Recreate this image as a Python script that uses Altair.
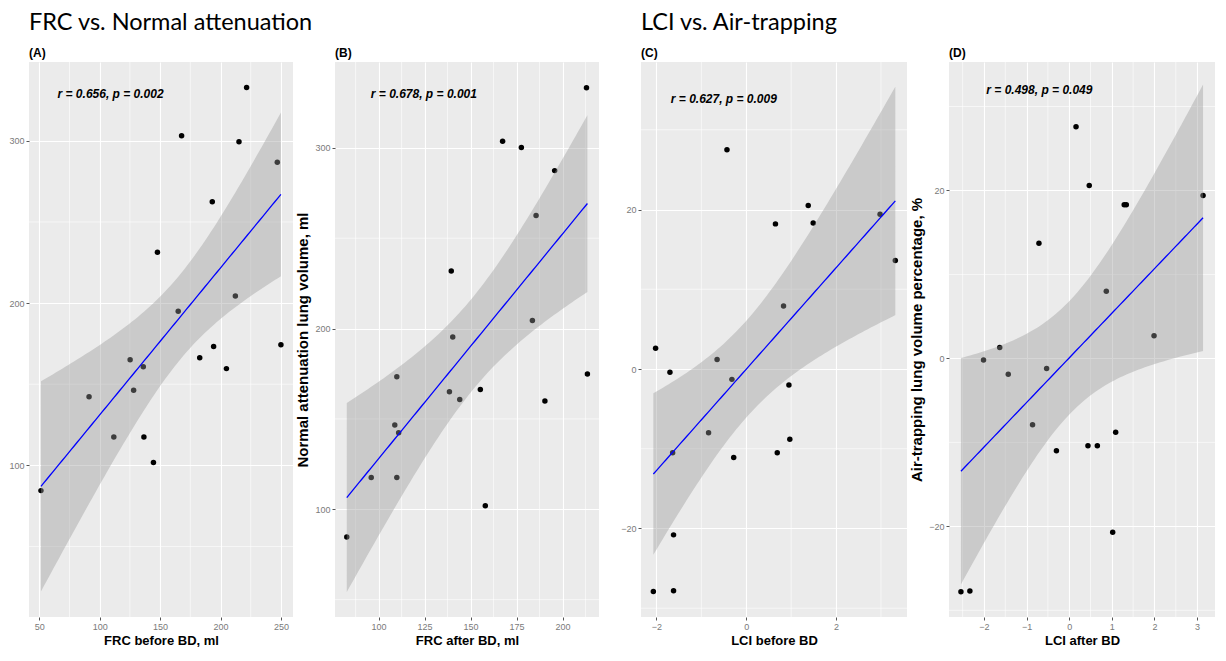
import altair as alt
import numpy as np
import pandas as pd

# ---------------- data ----------------
# (A) FRC before BD vs Normal attenuation lung volume
a_x = [221.6, 167.8, 215.3, 247.0, 193.2, 147.8, 212.3, 165.0, 194.3, 250.0,
       182.8, 125.2, 136.1, 204.9, 128.1, 91.2, 111.7, 136.6, 144.5, 51.4]
a_y = [332.9, 303.2, 299.4, 286.8, 262.4, 231.3, 204.3, 194.9, 173.3, 174.3,
       166.3, 165.0, 160.7, 159.6, 146.2, 142.2, 117.4, 117.4, 101.8, 84.4]
# (B) FRC after BD vs Normal attenuation lung volume
b_x = [213.0, 167.4, 177.6, 195.7, 185.6, 139.5, 183.6, 140.3, 213.5, 155.3,
       109.9, 138.5, 144.1, 190.4, 108.8, 110.9, 96.0, 109.9, 158.0, 82.7]
b_y = [333.3, 303.6, 300.2, 287.4, 262.6, 231.8, 204.5, 195.3, 174.8, 166.3,
       173.3, 165.1, 160.8, 159.9, 146.6, 142.4, 117.6, 117.6, 102.0, 84.7]
# (C) LCI before BD vs Air-trapping
c_x = [-0.43, 1.38, 0.65, 1.49, 2.98, 3.32, 0.83, -2.02, -1.70, -0.65,
       -0.32, 0.95, -0.84, 0.97, -1.64, -0.28, 0.69, -1.62, -2.07, -1.62]
c_y = [27.5, 20.5, 18.2, 18.3, 19.4, 13.6, 7.9, 2.6, -0.4, 1.2,
       -1.3, -2.0, -8.0, -8.8, -10.5, -11.1, -10.5, -20.8, -27.9, -27.8]
# (D) LCI after BD vs Air-trapping
d_x = [0.16, 0.47, 1.29, 1.34, 3.14, -0.71, 0.87, 1.99, -1.63, -2.01,
       -1.43, -0.53, -0.86, 1.09, 0.44, 0.66, -0.30, 1.02, -2.54, -2.33]
d_y = [27.6, 20.6, 18.3, 18.3, 19.4, 13.7, 8.0, 2.7, 1.3, -0.2,
       -1.9, -1.2, -7.9, -8.8, -10.4, -10.4, -11.0, -20.7, -27.8, -27.7]

group_titles = ["FRC vs. Normal attenuation", "LCI vs. Air-trapping"]
panel_labels = ["(A)", "(B)", "(C)", "(D)"]
x_titles = ["FRC before BD, ml", "FRC after BD, ml", "LCI before BD", "LCI after BD"]
y_titles = [None, "Normal attenuation lung volume, ml", None,
            "Air-trapping lung volume percentage, %"]
annotations = ["r = 0.656, p = 0.002", "r = 0.678, p = 0.001",
               "r = 0.627, p = 0.009", "r = 0.498, p = 0.049"]
ann_pos = [(109, 328.8), (124.6, 329.7), (-0.50, 33.9), (-0.70, 32.0)]

x_domains = [[41.5, 260.0], [76.3, 219.8], [-2.345, 3.58], [-2.82, 3.42]]
y_domains = [[6.5, 348.6], [40.4, 347.5], [-31.1, 38.5], [-30.8, 35.3]]
x_major = [[50, 100, 150, 200, 250], [100, 125, 150, 175, 200], [-2, 0, 2],
           [-2, -1, 0, 1, 2, 3]]
x_minor = [[75, 125, 175, 225], [87.5, 112.5, 137.5, 162.5, 187.5, 212.5],
           [-1, 1, 3], [-2.5, -1.5, -0.5, 0.5, 1.5, 2.5]]
y_major = [[100, 200, 300], [100, 200, 300], [-20, 0, 20], [-20, 0, 20]]
y_minor = [[50, 150, 250], [50, 150, 250], [-30, -10, 10, 30], [-30, -10, 10, 30]]

widths = [264, 264, 266, 266]
HEIGHT = 555
T975 = 2.100922  # t quantile, df = 18


def smooth(x, y, n=80):
    x = np.asarray(x, float)
    y = np.asarray(y, float)
    b1, b0 = np.polyfit(x, y, 1)
    xs = np.linspace(x.min(), x.max(), n)
    yh = b0 + b1 * xs
    res = y - (b0 + b1 * x)
    s = np.sqrt((res ** 2).sum() / (len(x) - 2))
    se = s * np.sqrt(1 / len(x) + (xs - x.mean()) ** 2 / ((x - x.mean()) ** 2).sum())
    return pd.DataFrame({"x": xs, "fit": yh, "lo": yh - T975 * se, "hi": yh + T975 * se})


def panel(i, x, y, title):
    xs = alt.Scale(domain=x_domains[i], nice=False, zero=False)
    ys = alt.Scale(domain=y_domains[i], nice=False, zero=False)
    xaxis = alt.Axis(values=x_major[i], title=x_titles[i])
    if y_titles[i]:
        yaxis = alt.Axis(values=y_major[i], title=y_titles[i], titleFontSize=15,
                         titlePadding=4)
    else:
        yaxis = alt.Axis(values=y_major[i], title=None)

    pts = pd.DataFrame({"x": x, "y": y})
    sm = smooth(x, y)

    vmin = alt.Chart(pd.DataFrame({"x": x_minor[i]})).mark_rule(
        color="white", strokeWidth=0.6).encode(
        x=alt.X("x:Q", scale=xs, axis=xaxis))
    hmin = alt.Chart(pd.DataFrame({"y": y_minor[i]})).mark_rule(
        color="white", strokeWidth=0.6).encode(
        y=alt.Y("y:Q", scale=ys, axis=yaxis))
    points = alt.Chart(pts).mark_circle(size=30, color="black", opacity=1).encode(
        x=alt.X("x:Q", scale=xs, axis=xaxis),
        y=alt.Y("y:Q", scale=ys, axis=yaxis))
    band = alt.Chart(sm).mark_area(color="#999999", opacity=0.4).encode(
        x=alt.X("x:Q", scale=xs, axis=xaxis),
        y=alt.Y("lo:Q", scale=ys, axis=yaxis),
        y2="hi:Q")
    line = alt.Chart(sm).mark_line(color="#0000FF", strokeWidth=1.3).encode(
        x=alt.X("x:Q", scale=xs, axis=xaxis),
        y=alt.Y("fit:Q", scale=ys, axis=yaxis))
    ann = alt.Chart(pd.DataFrame({"x": [ann_pos[i][0]], "y": [ann_pos[i][1]],
                                  "t": [annotations[i]]})).mark_text(
        font="Liberation Sans", fontSize=12, fontWeight="bold", fontStyle="italic",
        color="black", align="center", baseline="middle").encode(
        x=alt.X("x:Q", scale=xs, axis=xaxis),
        y=alt.Y("y:Q", scale=ys, axis=yaxis),
        text="t:N")

    ttl = alt.TitleParams(
        text=title, subtitle=panel_labels[i], anchor="start", frame="group",
        font="Lato", fontSize=23.5, fontWeight="normal", color="black",
        subtitleFont="Liberation Sans", subtitleFontSize=12,
        subtitleFontWeight="bold", subtitleColor="black",
        subtitlePadding=13, offset=3)
    return alt.layer(vmin, hmin, points, band, line, ann).properties(
        width=widths[i], height=HEIGHT, title=ttl)


pA = panel(0, a_x, a_y, group_titles[0])
pB = panel(1, b_x, b_y, " ")
pC = panel(2, c_x, c_y, group_titles[1])
pD = panel(3, d_x, d_y, " ")

chart = alt.hconcat(pA, pB, pC, pD, spacing=42, bounds="flush").properties(
    padding={"left": 0, "top": 3, "right": 0, "bottom": 0},
    background="white"
).configure_view(
    fill="#EBEBEB", strokeWidth=0
).configure_axis(
    domain=False, grid=True, gridColor="white", gridWidth=1.1,
    tickColor="#555555", tickSize=3, tickWidth=1,
    labelFont="Liberation Sans", labelFontSize=9, labelColor="#7a7a7a",
    labelPadding=2, titleFont="Liberation Sans", titleFontSize=13,
    titleFontWeight="bold", titleColor="black", titlePadding=3
)

chart.save("out.html", embed_options={"renderer": "svg", "actions": False})
